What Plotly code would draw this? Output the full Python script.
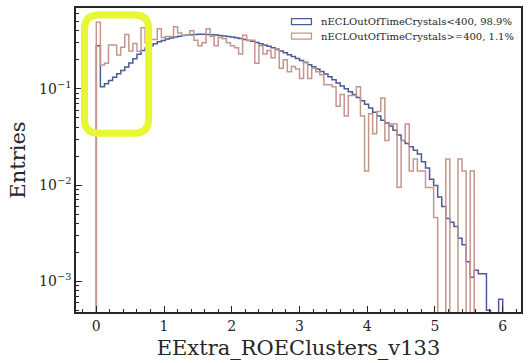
import numpy as np
import plotly.graph_objects as go

# Histogram binning of EExtra_ROEClusters_v133 (100 bins of width 0.06 from 0 to 6)
bin_start = 0.0
bin_width = 0.06
n_bins = 100

# Normalised entries per bin, nECLOutOfTimeCrystals < 400 (98.9 %)
low_ootc = [
    0.28, 0.105, 0.113, 0.122, 0.132, 0.143, 0.155, 0.168, 0.185, 0.205,
    0.228, 0.250, 0.265, 0.280, 0.294, 0.307, 0.318, 0.328, 0.337, 0.345,
    0.352, 0.358, 0.362, 0.365, 0.367, 0.368, 0.368, 0.367, 0.365, 0.362,
    0.358, 0.354, 0.349, 0.344, 0.338, 0.332, 0.325, 0.318, 0.311, 0.303,
    0.294, 0.285, 0.276, 0.266, 0.256, 0.246, 0.236, 0.226, 0.216, 0.206,
    0.196, 0.187, 0.178, 0.169, 0.160, 0.151, 0.142, 0.133, 0.124, 0.115,
    0.107, 0.100, 0.093, 0.087, 0.081, 0.075, 0.069, 0.063, 0.057, 0.052,
    0.047, 0.044, 0.041, 0.037, 0.033, 0.029, 0.027, 0.025, 0.023, 0.021,
    0.0175, 0.0150, 0.0115, 0.0099, 0.0075, 0.0060, 0.0045, 0.0041, 0.0037, 0.0028,
    0.0024, 0.0016, 0.0011, 0.0013, 0.0012, 0.0012, 0.0005, 0.0, 0.0, 0.00065,
]

# Normalised entries per bin, nECLOutOfTimeCrystals >= 400 (1.1 %)
high_ootc = [
    0.49, 0.177, 0.184, 0.284, 0.284, 0.224, 0.27, 0.366, 0.247, 0.295,
    0.245, 0.43, 0.30, 0.325, 0.325, 0.42, 0.34, 0.35, 0.35, 0.44,
    0.38, 0.36, 0.36, 0.40, 0.32, 0.28, 0.30, 0.42, 0.35, 0.28,
    0.34, 0.33, 0.30, 0.28, 0.266, 0.23, 0.36, 0.32, 0.32, 0.184,
    0.28, 0.23, 0.25, 0.21, 0.26, 0.163, 0.20, 0.15, 0.17, 0.16,
    0.128, 0.19, 0.128, 0.163, 0.15, 0.14, 0.11, 0.11, 0.105, 0.066,
    0.087, 0.052, 0.085, 0.085, 0.105, 0.052, 0.014, 0.055, 0.034, 0.058,
    0.08, 0.029, 0.043, 0.043, 0.0095, 0.029, 0.043, 0.014, 0.0186, 0.014,
    0.014, 0.0094, 0.0094, 0.0046, 0.0, 0.0, 0.0186, 0.0, 0.0, 0.0186,
    0.014, 0.0, 0.014, 0.0, 0.0, 0.0, 0.0, 0.0, 0.0, 0.0,
]

labels = ["nECLOutOfTimeCrystals<400, 98.9%", "nECLOutOfTimeCrystals>=400, 1.1%"]
colors = ["#4a5c96", "#c4968c"]

x_title = "EExtra_ROEClusters_v133"
y_title = "Entries"
y_tick_vals = [1e-3, 1e-2, 1e-1]
y_tick_text = ["10<sup>\u22123</sup>", "10<sup>\u22122</sup>", "10<sup>\u22121</sup>"]

# empty bins are drawn at a floor below the visible log range so the
# outline drops to the bottom of the frame
FLOOR = 1e-6
edges = bin_start + bin_width * np.arange(n_bins + 1)


def step_outline(values):
    v = np.where(np.asarray(values, float) > 0, values, FLOOR)
    xs = np.concatenate([[edges[0]], edges[:-1], [edges[-1], edges[-1]]])
    ys = np.concatenate([[FLOOR], v, [v[-1], FLOOR]])
    return xs, ys


fig = go.Figure()
for vals, col in zip([low_ootc, high_ootc], colors):
    xs, ys = step_outline(vals)
    fig.add_trace(go.Scatter(
        x=xs, y=ys, mode="lines", line=dict(color=col, width=1.5, shape="hv"),
        showlegend=False, hoverinfo="skip",
    ))

serif = "DejaVu Serif"
axis_col = "#262626"

minor_logs = [m * 10.0 ** e for e in range(-4, 1) for m in range(2, 10)]

fig.update_layout(
    width=529, height=363,
    margin=dict(l=76, r=6, t=6, b=51),
    paper_bgcolor="white", plot_bgcolor="white",
    font=dict(family=serif, color=axis_col, size=14),
    xaxis=dict(
        range=[-0.3, 6.27], dtick=1, tick0=0,
        ticks="inside", ticklen=6, tickwidth=1, tickcolor=axis_col,
        minor=dict(ticks="inside", ticklen=3, dtick=0.2, tick0=0, tickcolor=axis_col),
        showline=True, linecolor=axis_col, linewidth=1.6, mirror=True,
        showgrid=False, zeroline=False,
        title=dict(text=x_title, font=dict(family=serif, size=21), standoff=8),
        tickfont=dict(family=serif, size=14),
    ),
    yaxis=dict(
        type="log", range=[np.log10(4.8e-4), np.log10(0.69)],
        tickmode="array", tickvals=y_tick_vals, ticktext=y_tick_text,
        ticks="inside", ticklen=6, tickwidth=1, tickcolor=axis_col,
        minor=dict(ticks="inside", ticklen=3, tickvals=minor_logs, tickcolor=axis_col),
        showline=True, linecolor=axis_col, linewidth=1.6, mirror=True,
        showgrid=False, zeroline=False,
        title=dict(text=y_title, font=dict(family=serif, size=21), standoff=8),
        tickfont=dict(family=serif, size=14),
    ),
)

# legend drawn as outlined patches with labels, upper right
px_w, px_h = 529 - 76 - 6, 363 - 6 - 51


def to_paper(px, py):
    return (px - 76) / px_w, (363 - 51 - py) / px_h


for i, (lab, col) in enumerate(zip(labels, colors)):
    yc = 19.7 + 14.6 * i
    x0, y0 = to_paper(292.5, yc - 3)
    x1, y1 = to_paper(312.5, yc + 3)
    fig.add_shape(type="rect", xref="paper", yref="paper",
                  x0=x0, y0=y0, x1=x1, y1=y1,
                  line=dict(color=col, width=1.3), fillcolor="rgba(0,0,0,0)")
    tx, ty = to_paper(320, yc)
    fig.add_annotation(x=tx, y=ty, xref="paper", yref="paper", text=lab,
                       showarrow=False, xanchor="left", yanchor="middle",
                       font=dict(family=serif, size=10, color=axis_col))


# highlight box around the low-energy region
def P(px, py):
    x, y = to_paper(px, py)
    return f"{x:.5f},{y:.5f}"


L, R, T, B, r = 84.5, 149.0, 13.0, 132.0, 14.0
path = (f"M {P(L + r, T)} L {P(R - r, T)} Q {P(R, T)} {P(R, T + r)} "
        f"L {P(R, B - r)} Q {P(R, B)} {P(R - r, B)} "
        f"L {P(L + r, B)} Q {P(L, B)} {P(L, B - r)} "
        f"L {P(L, T + r)} Q {P(L, T)} {P(L + r, T)} Z")
fig.add_shape(type="path", xref="paper", yref="paper", path=path,
              line=dict(color="rgb(232,246,52)", width=7), fillcolor="rgba(0,0,0,0)")

fig.write_html("out.html")
